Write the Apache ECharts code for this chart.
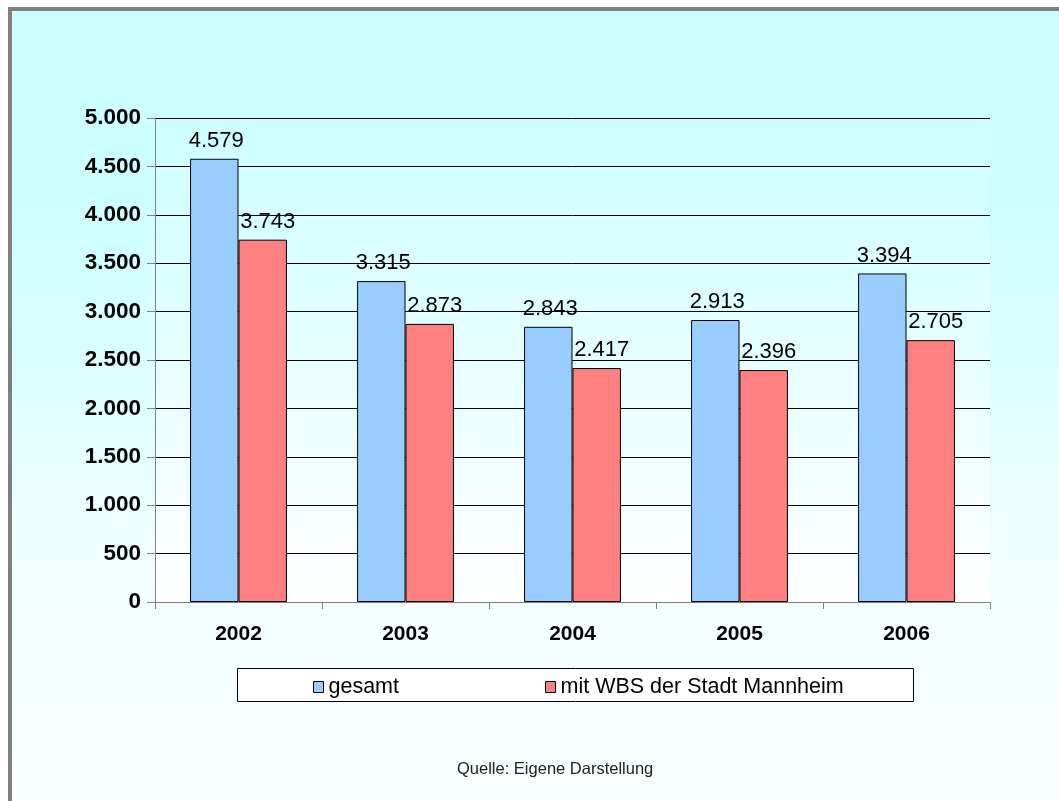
<!DOCTYPE html>
<html>
<head>
<meta charset="utf-8">
<script src="https://cdn.jsdelivr.net/npm/echarts@6/dist/echarts.min.js"></script>
<style>
html,body{margin:0;padding:0;background:#fff;}
#chart{width:1059px;height:801px;}
</style>
</head>
<body>
<div id="chart"></div>
<script>
var categories = ['2002', '2003', '2004', '2005', '2006'];
var seriesNames = ['gesamt', 'mit WBS der Stadt Mannheim'];
var gesamt = [4579, 3315, 2843, 2913, 3394];
var mitWBS = [3743, 2873, 2417, 2396, 2705];
var yMin = 0, yMax = 5000, yStep = 500;
var sourceNote = 'Quelle: Eigene Darstellung';

function fmt(v) {
  return String(Math.round(v)).replace(/\B(?=(\d{3})+(?!\d))/g, '.');
}

var FONT = '"Liberation Sans", Arial, sans-serif';
var chart = echarts.init(document.getElementById('chart'), null, {renderer: 'canvas'});

function labelCfg(dx) {
  return {
    show: true, position: 'top', distance: 7, offset: [dx, 0],
    color: '#000', fontFamily: FONT, fontSize: 22,
    formatter: function (p) { return fmt(p.value); }
  };
}

chart.setOption({
  animation: false,
  backgroundColor: {
    type: 'linear', x: 0, y: 0, x2: 0, y2: 1,
    colorStops: [
      {offset: 0, color: '#CCFFFF'},
      {offset: 0.25, color: '#CCFFFF'},
      {offset: 0.75, color: '#F3FFFF'},
      {offset: 1, color: '#FAFFFF'}
    ]
  },
  graphic: [
    {type: 'rect', shape: {x: 0, y: 0, width: 1059, height: 7}, style: {fill: '#fff'}, silent: true},
    {type: 'rect', shape: {x: 0, y: 0, width: 8, height: 801}, style: {fill: '#fff'}, silent: true},
    {type: 'rect', shape: {x: 8, y: 7, width: 1051, height: 4}, style: {fill: '#808080'}, silent: true},
    {type: 'rect', shape: {x: 8, y: 7, width: 4, height: 794}, style: {fill: '#808080'}, silent: true},
    {type: 'rect', shape: {x: 237.5, y: 668.5, width: 676, height: 33}, style: {fill: '#fff', stroke: '#000', lineWidth: 1}, silent: true, z: 5},
    {type: 'text', left: 457, top: 761, style: {text: sourceNote, fill: '#222', font: '16.5px ' + FONT}, silent: true, z: 5}
  ],
  grid: {
    left: 155, right: 69, top: 118, bottom: 199,
    show: true, borderWidth: 0,
    backgroundColor: {
      type: 'linear', x: 0, y: 0, x2: 0, y2: 1,
      colorStops: [{offset: 0, color: '#CCFFFF'}, {offset: 1, color: '#FFFFFF'}]
    }
  },
  legend: {
    data: seriesNames,
    left: 308, top: 671,
    itemWidth: 10, itemHeight: 11, itemGap: 146,
    icon: 'rect',
    z: 10,
    textStyle: {fontFamily: FONT, fontSize: 21.5, color: '#000'},
    itemStyle: {borderColor: '#000', borderWidth: 1}
  },
  xAxis: {
    type: 'category', data: categories, boundaryGap: true,
    axisLine: {lineStyle: {color: '#808080', width: 1}},
    axisTick: {show: true, inside: false, length: 7, lineStyle: {color: '#808080'}},
    axisLabel: {fontFamily: FONT, fontSize: 21, fontWeight: 'bold', color: '#000', margin: 22}
  },
  yAxis: {
    type: 'value', min: yMin, max: yMax, interval: yStep,
    axisLine: {show: true, lineStyle: {color: '#808080', width: 1}},
    axisTick: {show: true, length: 8, lineStyle: {color: '#808080'}},
    splitLine: {show: true, lineStyle: {color: '#000', width: 1}},
    axisLabel: {fontFamily: FONT, fontSize: 22.5, fontWeight: 'bold', color: '#000', margin: 14,
      formatter: function (v) { return fmt(v); }}
  },
  series: [
    {name: seriesNames[0], type: 'bar', data: gesamt, barGap: '0%', barCategoryGap: '42%',
      itemStyle: {color: '#99CCFF', borderColor: '#000', borderWidth: 1}, label: labelCfg(2)},
    {name: seriesNames[1], type: 'bar', data: mitWBS, barGap: '0%', barCategoryGap: '42%',
      itemStyle: {color: '#FF8080', borderColor: '#000', borderWidth: 1}, label: labelCfg(5)}
  ]
});
</script>
</body>
</html>
